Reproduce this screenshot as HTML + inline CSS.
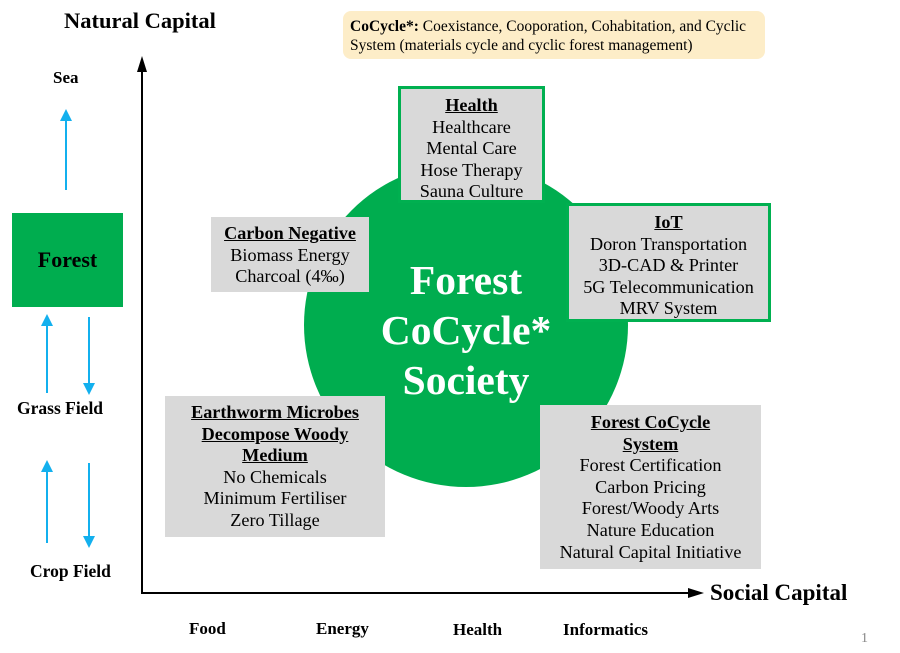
<!DOCTYPE html>
<html><head><style>
body{margin:0;width:900px;height:653px;background:#fff;position:relative;overflow:hidden;font-family:"Liberation Serif",serif;color:#000}
div{position:absolute}
.b{font-weight:bold}
.box{background:#d9d9d9;text-align:center;font-size:18.2px;line-height:21.6px;white-space:nowrap}
.u{text-decoration:underline;font-weight:bold}
.g{border:3px solid #00b050}
</style></head><body>
<div class="b" style="left:64px;top:8px;font-size:22.5px">Natural Capital</div>
<div class="b" style="left:710px;top:580px;font-size:23px">Social Capital</div>
<div style="left:343px;top:11px;height:48px;background:#fdedc8;border-radius:8px;padding:0 7px;font-size:15.5px;line-height:19px;padding-top:6px;box-sizing:border-box;width:422px"><b>CoCycle*:</b> Coexistance, Cooporation, Cohabitation, and Cyclic System (materials cycle and cyclic forest management)</div>
<svg style="position:absolute;left:0;top:0" width="900" height="653">
<defs><marker id="a" markerWidth="8" markerHeight="8" refX="4" refY="4" orient="auto"><path d="M0,1.5 L8,4 L0,6.5z" fill="#000"/></marker>
<marker id="c" markerWidth="6" markerHeight="6" refX="3" refY="3" orient="auto"><path d="M0,0 L6,3 L0,6z" fill="#13b0ee"/></marker></defs>
<line x1="142" y1="594" x2="142" y2="64" stroke="#000" stroke-width="2" marker-end="url(#a)"/>
<line x1="141" y1="593" x2="696" y2="593" stroke="#000" stroke-width="2" marker-end="url(#a)"/>
<g stroke="#13b0ee" stroke-width="2" marker-end="url(#c)">
<line x1="66" y1="190" x2="66" y2="115"/>
<line x1="47" y1="393" x2="47" y2="320"/>
<line x1="89" y1="317" x2="89" y2="389"/>
<line x1="47" y1="543" x2="47" y2="466"/>
<line x1="89" y1="463" x2="89" y2="542"/>
</g>
<circle cx="466" cy="325" r="162" fill="#00ad4f"/>
</svg>
<div class="b" style="left:53px;top:68px;font-size:17px">Sea</div>
<div class="b" style="left:12px;top:213px;width:111px;height:94px;background:#00ad4f;font-size:22px;text-align:center;line-height:94px;">Forest</div>
<div class="b" style="left:17px;top:398px;font-size:17.5px">Grass Field</div>
<div class="b" style="left:30px;top:561px;font-size:17.5px">Crop Field</div>
<div class="b" style="left:189px;top:619px;font-size:17px">Food</div>
<div class="b" style="left:316px;top:619px;font-size:17px">Energy</div>
<div class="b" style="left:453px;top:620px;font-size:17px">Health</div>
<div class="b" style="left:563px;top:620px;font-size:17px">Informatics</div>
<div style="left:861px;top:631px;font-size:14px;color:#888">1</div>
<div class="b" style="left:303px;top:255px;width:326px;text-align:center;color:#fff;font-size:41.5px;line-height:50px">Forest<br>CoCycle*<br>Society</div>
<div class="box g" style="left:398px;top:86px;width:141px;height:105px;padding-top:6px"><span class="u">Health</span><br>Healthcare<br>Mental Care<br>Hose Therapy<br>Sauna Culture</div>
<div class="box g" style="left:566px;top:203px;width:199px;height:107px;padding-top:6px"><span class="u">IoT</span><br>Doron Transportation<br>3D-CAD &amp; Printer<br>5G Telecommunication<br>MRV System</div>
<div class="box" style="left:211px;top:217px;width:158px;height:75px;padding-top:6px;box-sizing:border-box"><span class="u">Carbon Negative</span><br>Biomass Energy<br>Charcoal (4‰)</div>
<div class="box" style="left:165px;top:396px;width:220px;height:141px;padding-top:6px;box-sizing:border-box"><span class="u">Earthworm Microbes<br>Decompose Woody<br>Medium</span><br>No Chemicals<br>Minimum Fertiliser<br>Zero Tillage</div>
<div class="box" style="left:540px;top:405px;width:221px;height:164px;padding-top:7px;box-sizing:border-box"><span class="u">Forest CoCycle<br>System</span><br>Forest Certification<br>Carbon Pricing<br>Forest/Woody Arts<br>Nature Education<br>Natural Capital Initiative</div>
</body></html>
